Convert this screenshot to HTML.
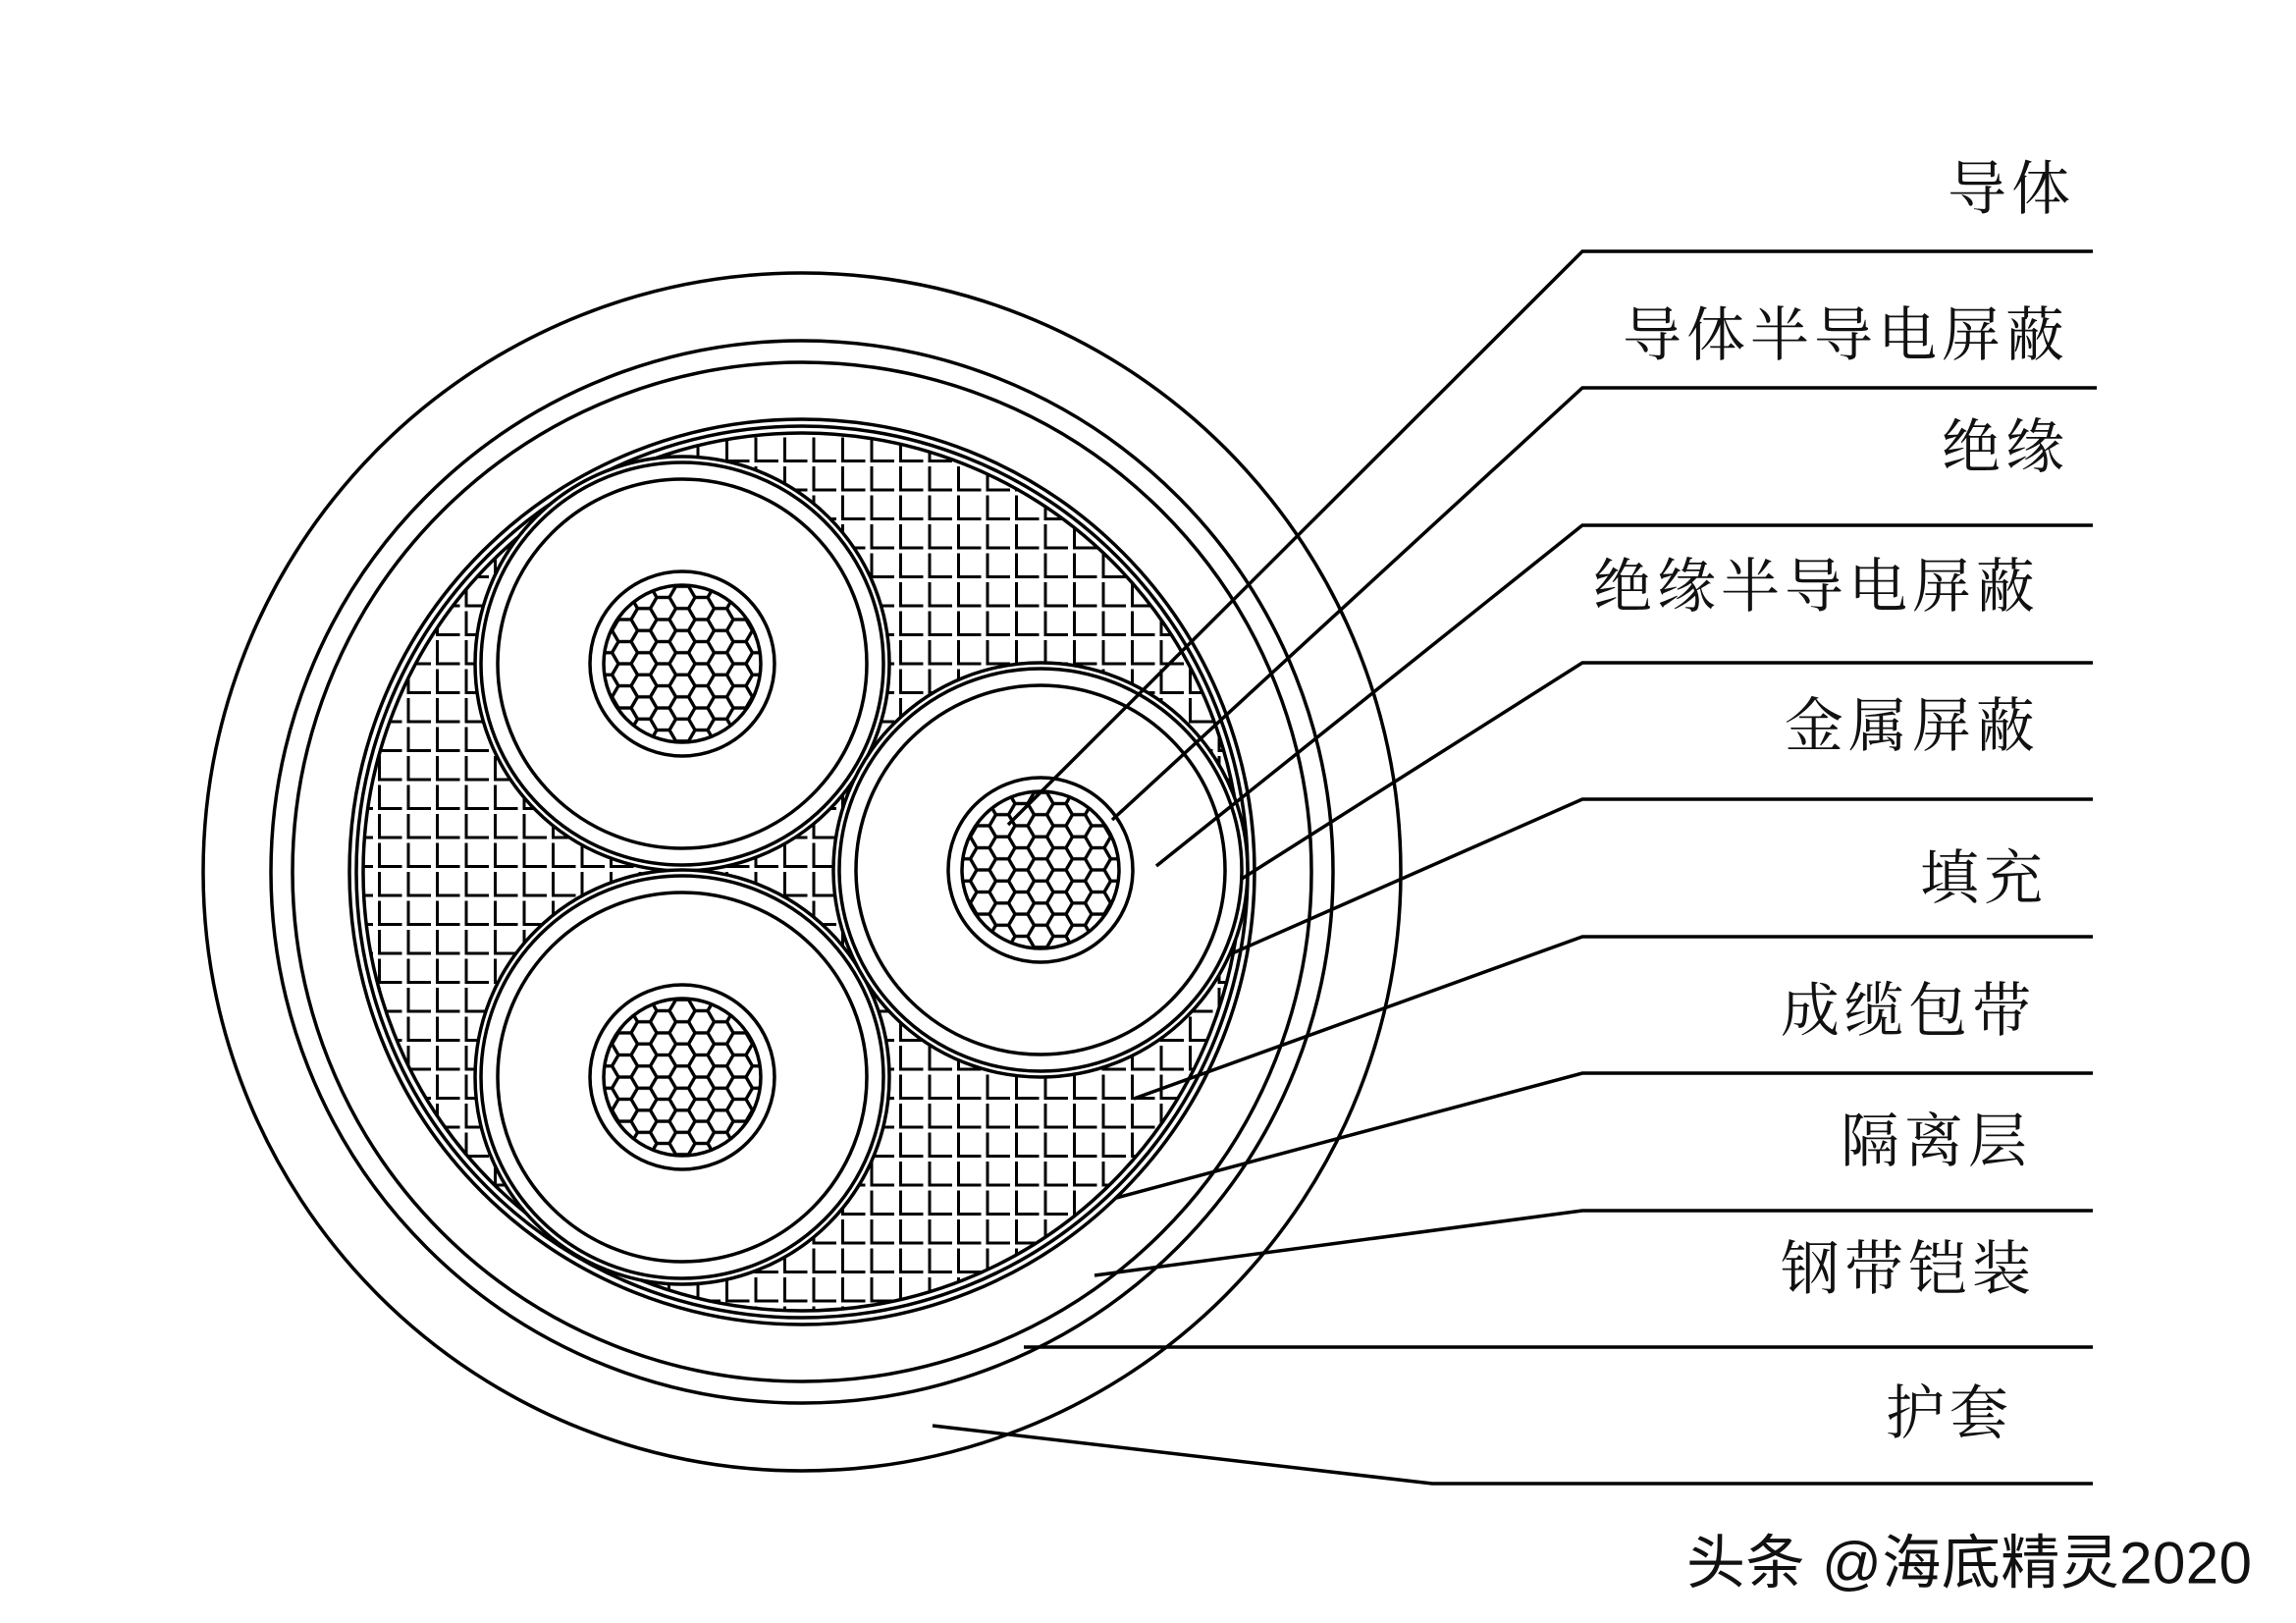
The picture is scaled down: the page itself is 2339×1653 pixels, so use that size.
<!DOCTYPE html>
<html><head><meta charset="utf-8"><style>
html,body{margin:0;padding:0;background:#fff;}
svg{display:block}
.l{font-family:"Noto Serif CJK SC","Liberation Serif",serif;font-size:60px;letter-spacing:5px;fill:#111;}
.w{font-family:"Liberation Sans","Noto Sans CJK SC",sans-serif;font-size:60px;fill:#111;}
</style></head><body>
<svg width="2339" height="1653" viewBox="0 0 2339 1653" xmlns="http://www.w3.org/2000/svg">
<defs>
<pattern id="L" patternUnits="userSpaceOnUse" x="0" y="0" width="29.5" height="29.5">
<path d="M3 3 V27 H26" fill="none" stroke="#000" stroke-width="3"/>
</pattern>
<pattern id="H1" patternUnits="userSpaceOnUse" x="695" y="676" width="39" height="22.517">
<g fill="none" stroke="#000" stroke-width="3.2">
<path d="M-13 0 L-6.5 -11.26 L6.5 -11.26 L13 0 L6.5 11.26 L-6.5 11.26 Z"/>
<path transform="translate(39,0)" d="M-13 0 L-6.5 -11.26 L6.5 -11.26 L13 0 L6.5 11.26 L-6.5 11.26 Z"/>
<path transform="translate(0,22.517)" d="M-13 0 L-6.5 -11.26 L6.5 -11.26 L13 0 L6.5 11.26 L-6.5 11.26 Z"/>
<path transform="translate(39,22.517)" d="M-13 0 L-6.5 -11.26 L6.5 -11.26 L13 0 L6.5 11.26 L-6.5 11.26 Z"/>
<path transform="translate(19.5,11.26)" d="M-13 0 L-6.5 -11.26 L6.5 -11.26 L13 0 L6.5 11.26 L-6.5 11.26 Z"/>
<path transform="translate(19.5,-11.26)" d="M-13 0 L-6.5 -11.26 L6.5 -11.26 L13 0 L6.5 11.26 L-6.5 11.26 Z"/>
<path transform="translate(19.5,33.78)" d="M-13 0 L-6.5 -11.26 L6.5 -11.26 L13 0 L6.5 11.26 L-6.5 11.26 Z"/>
</g>
</pattern>
<pattern id="H2" href="#H1" x="695" y="1097"/>
<pattern id="H3" href="#H1" x="1060" y="886"/>
<clipPath id="fc"><circle cx="817" cy="888" r="447"/></clipPath>
</defs>
<g fill="none" stroke="#000" stroke-width="3.5">
<circle cx="817" cy="888" r="610"/>
<circle cx="817" cy="888" r="541"/>
<circle cx="817" cy="888" r="519"/>
<circle cx="817" cy="888" r="461"/>
<circle cx="817" cy="888" r="454"/>
</g>
<rect x="360" y="430" width="920" height="920" fill="url(#L)" clip-path="url(#fc)"/>
<circle cx="817" cy="888" r="447" fill="none" stroke="#000" stroke-width="3.5"/>
<g>
<circle cx="695" cy="676" r="211" fill="#fff" stroke="#000" stroke-width="3.5"/>
<circle cx="695" cy="676" r="205" fill="none" stroke="#000" stroke-width="3.5"/>
<circle cx="695" cy="676" r="188" fill="none" stroke="#000" stroke-width="3.5"/>
<circle cx="695" cy="676" r="94" fill="none" stroke="#000" stroke-width="3.5"/>
<circle cx="695" cy="676" r="80" fill="url(#H1)" stroke="#000" stroke-width="3.5"/>
</g>
<g>
<circle cx="695" cy="1097" r="211" fill="#fff" stroke="#000" stroke-width="3.5"/>
<circle cx="695" cy="1097" r="205" fill="none" stroke="#000" stroke-width="3.5"/>
<circle cx="695" cy="1097" r="188" fill="none" stroke="#000" stroke-width="3.5"/>
<circle cx="695" cy="1097" r="94" fill="none" stroke="#000" stroke-width="3.5"/>
<circle cx="695" cy="1097" r="80" fill="url(#H2)" stroke="#000" stroke-width="3.5"/>
</g>
<g>
<circle cx="1060" cy="886" r="211" fill="#fff" stroke="#000" stroke-width="3.5"/>
<circle cx="1060" cy="886" r="205" fill="none" stroke="#000" stroke-width="3.5"/>
<circle cx="1060" cy="886" r="188" fill="none" stroke="#000" stroke-width="3.5"/>
<circle cx="1060" cy="886" r="94" fill="none" stroke="#000" stroke-width="3.5"/>
<circle cx="1060" cy="886" r="80" fill="url(#H3)" stroke="#000" stroke-width="3.5"/>
</g>
<g fill="none" stroke="#000" stroke-width="3.5">
<polyline points="2132,256 1612,256 1027,840"/>
<polyline points="2136,395 1612,395 1133,835"/>
<polyline points="2132,535 1612,535 1178,882"/>
<polyline points="2132,675 1612,675 1265,895"/>
<polyline points="2132,814 1612,814 1253,972"/>
<polyline points="2132,954 1612,954 1155,1119"/>
<polyline points="2132,1093 1612,1093 1137,1220"/>
<polyline points="2132,1233 1612,1233 1115,1299"/>
<polyline points="2132,1372 1043,1372"/>
<polyline points="2132,1511 1459,1511 950,1452"/>
</g>
<g class="l" text-anchor="end" dominant-baseline="central">
<text x="2114" y="188">导体</text>
<text x="2108" y="337">导体半导电屏蔽</text>
<text x="2108" y="451">绝缘</text>
<text x="2078" y="593">绝缘半导电屏蔽</text>
<text x="2078" y="735">金属屏蔽</text>
<text x="2086" y="890">填充</text>
<text x="2074" y="1025">成缆包带</text>
<text x="2070" y="1158">隔离层</text>
<text x="2074" y="1288">钢带铠装</text>
<text x="2051" y="1435">护套</text>
</g>
<text class="w" x="1718" y="1592" dominant-baseline="central" textLength="576">头条 @海底精灵2020</text>
</svg>
</body></html>
